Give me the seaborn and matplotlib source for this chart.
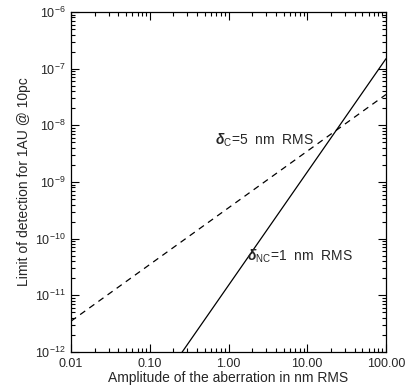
import matplotlib
matplotlib.use("Agg")
import matplotlib.pyplot as plt
import seaborn as sns
import numpy as np
import pandas as pd
from matplotlib.ticker import FixedLocator, FixedFormatter, LogLocator, NullFormatter

# Data
amp_nm = [0.01, 0.1, 1.0, 10.0, 100.0]
limit_corrected = [3.5e-12, 3.5e-11, 3.5e-10, 3.5e-9, 3.5e-8]      # dashed, delta_C = 5 nm RMS
limit_noncorrected = [1.5e-15, 1.5e-13, 1.5e-11, 1.5e-9, 1.5e-7]   # solid, delta_NC = 1 nm RMS
x_ticks = [0.01, 0.1, 1.0, 10.0, 100.0]
x_tick_labels = ["0.01", "0.10", "1.00", "10.00", "100.00"]
y_ticks = [1e-12, 1e-11, 1e-10, 1e-9, 1e-8, 1e-7, 1e-6]

df = pd.DataFrame({
    "amp": amp_nm * 2,
    "limit": limit_noncorrected + limit_corrected,
    "series": ["NC"] * len(amp_nm) + ["C"] * len(amp_nm),
})

sns.set_style("ticks")
plt.rcParams['font.family'] = ['Liberation Sans', 'DejaVu Sans']
plt.rcParams['mathtext.fontset'] = 'custom'
plt.rcParams['mathtext.rm'] = 'Liberation Sans'
plt.rcParams['mathtext.bf'] = 'Liberation Sans:bold:italic'
plt.rcParams['mathtext.it'] = 'Liberation Sans:italic'

fig = plt.figure(figsize=(4.08, 3.91), dpi=100)
ax = fig.add_axes([71/408, 1 - 352/391, (386-71)/408, (352-12)/391])

sns.lineplot(data=df, x="amp", y="limit", style="series",
             style_order=["NC", "C"], dashes={"NC": "", "C": (5, 4)},
             color="black", linewidth=0.9, ax=ax, legend=False, sort=False)

ax.set_xscale("log")
ax.set_yscale("log")
ax.set_xlim(0.01, 100)
ax.set_ylim(1e-12, 1e-6)

ax.xaxis.set_major_locator(FixedLocator(x_ticks))
ax.xaxis.set_major_formatter(FixedFormatter(x_tick_labels))
ax.xaxis.set_minor_locator(LogLocator(base=10, subs=np.arange(2, 10)))
ax.xaxis.set_minor_formatter(NullFormatter())
ax.yaxis.set_major_locator(FixedLocator(y_ticks))
ax.yaxis.set_minor_locator(LogLocator(base=10, subs=np.arange(2, 10)))
ax.yaxis.set_minor_formatter(NullFormatter())

ax.tick_params(which="both", direction="in", top=True, right=True, color="black",
               width=0.8)
ax.tick_params(which="major", length=6, labelsize=9, pad=4)
ax.tick_params(which="minor", length=3)
for s in ax.spines.values():
    s.set_linewidth(0.9)
    s.set_color("black")

ax.set_xlabel("Amplitude of the aberration in nm RMS", fontsize=10, labelpad=1)
ax.set_ylabel("Limit of detection for 1AU @ 10pc", fontsize=10, labelpad=3)

ax.text(0.68, 5.4e-9, r"$\mathbf{\delta}_{\mathrm{C}}$=5  nm  RMS", fontsize=10,
        va="center", ha="left")
ax.text(1.72, 4.8e-11, r"$\mathbf{\delta}_{\mathrm{NC}}$=1  nm  RMS", fontsize=10,
        va="center", ha="left")

fig.savefig("out.png", dpi=100)
